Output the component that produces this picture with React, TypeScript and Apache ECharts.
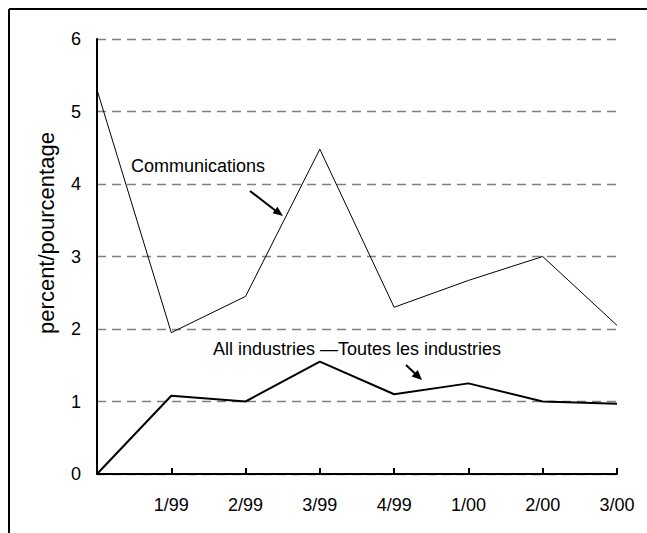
import React, { useEffect, useRef } from 'react';
import * as echarts from 'echarts';

const categories = ['', '1/99', '2/99', '3/99', '4/99', '1/00', '2/00', '3/00'];
const communications = [5.3, 1.95, 2.45, 4.48, 2.3, 2.67, 3.0, 2.05];
const allIndustries = [0, 1.08, 1.0, 1.55, 1.1, 1.25, 1.0, 0.97];
const yMin = 0;
const yMax = 6;
const yStep = 1;
const yAxisName = 'percent/pourcentage';
const commLabel = 'Communications';
const allLabel = 'All industries \u2014Toutes les industries';

const FONT = '"Liberation Sans", Arial, sans-serif';

export default function App() {
  const ref = useRef<HTMLDivElement>(null);
  useEffect(() => {
    document.body.style.margin = '0';
    if (!ref.current) return;
    const chart = echarts.init(ref.current, undefined, { renderer: 'svg' });
    chart.setOption({
      animation: false,
      backgroundColor: '#ffffff',
      textStyle: { fontFamily: FONT },
      grid: { left: 97, right: 30, top: 39, bottom: 59 },
      xAxis: {
        type: 'category',
        data: categories,
        boundaryGap: false,
        axisLine: { show: true, lineStyle: { color: '#000', width: 2 } },
        axisTick: { show: true, inside: true, length: 6, interval: 0, lineStyle: { color: '#000', width: 2 } },
        axisLabel: { interval: 0, color: '#000', fontSize: 18, margin: 22, fontFamily: FONT },
        splitLine: { show: false },
      },
      yAxis: {
        type: 'value',
        min: yMin,
        max: yMax,
        interval: yStep,
        axisLine: { show: true, lineStyle: { color: '#000', width: 2 } },
        axisTick: { show: false },
        axisLabel: { color: '#000', fontSize: 18, margin: 16, fontFamily: FONT },
        splitLine: { show: true, lineStyle: { color: '#808080', width: 1.3, type: [9, 6] } },
      },
      series: [
        {
          name: 'Communications',
          type: 'line',
          data: communications,
          symbol: 'none',
          lineStyle: { color: '#000', width: 1 },
          z: 3,
        },
        {
          name: 'All industries',
          type: 'line',
          data: allIndustries,
          symbol: 'none',
          lineStyle: { color: '#000', width: 2 },
          z: 3,
        },
      ],
      graphic: [
        { type: 'line', shape: { x1: 9, y1: 9, x2: 647, y2: 9 }, style: { stroke: '#000', lineWidth: 2 } },
        { type: 'line', shape: { x1: 9, y1: 9, x2: 9, y2: 533 }, style: { stroke: '#000', lineWidth: 2 } },
        {
          type: 'text', x: 46, y: 233, rotation: Math.PI / 2,
          style: { text: yAxisName, fontSize: 22, fill: '#000', fontFamily: FONT, align: 'center', verticalAlign: 'middle' },
        },
        {
          type: 'text', left: 131, top: 157,
          style: { text: commLabel, fontSize: 18, fill: '#000', fontFamily: FONT },
        },
        { type: 'line', shape: { x1: 250, y1: 191, x2: 276, y2: 211 }, style: { stroke: '#000', lineWidth: 2 } },
        { type: 'polygon', shape: { points: [[283, 216], [272.6, 213.2], [277.4, 206.8]] }, style: { fill: '#000' } },
        {
          type: 'text', left: 213, top: 340,
          style: { text: allLabel, fontSize: 18, fill: '#000', fontFamily: FONT },
        },
        { type: 'line', shape: { x1: 406, y1: 365, x2: 415, y2: 373.5 }, style: { stroke: '#000', lineWidth: 2 } },
        { type: 'polygon', shape: { points: [[422, 380], [411.6, 376.5], [417.8, 369.9]] }, style: { fill: '#000' } },
      ],
    });
    return () => chart.dispose();
  }, []);
  return <div ref={ref} style={{ width: 647, height: 533 }} />;
}
